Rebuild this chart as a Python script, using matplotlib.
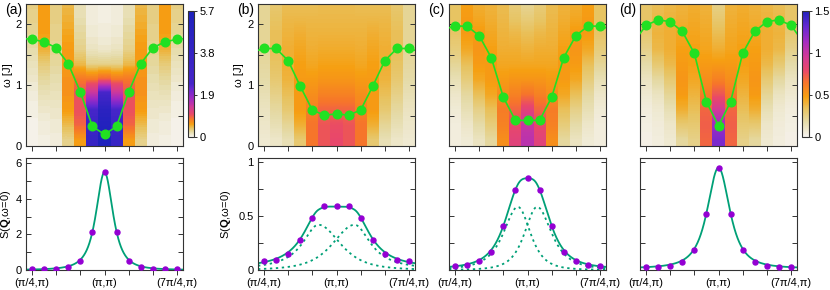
import numpy as np
import matplotlib
matplotlib.use('Agg')
import matplotlib.pyplot as plt
from matplotlib.colors import LinearSegmentedColormap, ListedColormap, Normalize
from matplotlib.cm import ScalarMappable
from matplotlib.ticker import FixedLocator, NullFormatter

plt.rcParams['font.family'] = ['Liberation Sans', 'DejaVu Sans']
plt.rcParams['mathtext.fontset'] = 'custom'
plt.rcParams['mathtext.rm'] = 'Liberation Sans'
plt.rcParams['mathtext.bf'] = 'Liberation Sans:bold'
plt.rcParams['mathtext.it'] = 'Liberation Sans:italic'

# ---------------- data ----------------
# momentum along (qx, pi), qx in units of pi
qx = [0.25, 0.375, 0.5, 0.625, 0.75, 0.875, 1.0, 1.125, 1.25, 1.375, 1.5, 1.625, 1.75]
qx_ext = [0.125] + qx + [1.875]
xtick_pos = [0.25, 0.5, 0.75, 1.0, 1.25, 1.5, 1.75]
xtick_labels = ['(π/4,π)', '', '', '(π,π)', '', '', '(7π/4,π)']

# dispersion omega(k) [J] (incl. one point beyond each edge)
disp_a = [1.77, 1.75, 1.71, 1.61, 1.35, 0.885, 0.32, 0.19, 0.32, 0.885, 1.35, 1.61, 1.71, 1.75, 1.77]
disp_b = [1.54, 1.60, 1.60, 1.40, 0.98, 0.59, 0.505, 0.527, 0.505, 0.59, 0.98, 1.40, 1.60, 1.60, 1.54]
disp_c = [1.91, 1.967, 1.967, 1.81, 1.45, 0.80, 0.42, 0.42, 0.42, 0.80, 1.45, 1.81, 1.967, 1.967, 1.91]
disp_d = [1.71, 1.98, 2.07, 2.04, 1.88, 1.52, 0.725, 0.33, 0.725, 1.52, 1.88, 2.04, 2.07, 1.98, 1.71]

# spectral intensity: rows = omega levels (bottom->top), columns = k points 0..6 (mirror symmetric)
omega_rows = [0.1, 0.35, 0.6, 0.85, 1.1, 1.35, 1.6, 1.85, 2.1, 2.35]
spec_a = [
    [0.03, 0.06, 0.08, 0.30, 0.60, 3.60, 5.60],
    [0.04, 0.08, 0.10, 0.45, 0.90, 3.20, 5.30],
    [0.05, 0.12, 0.13, 0.60, 1.00, 2.40, 4.60],
    [0.08, 0.18, 0.17, 0.65, 1.00, 1.50, 2.60],
    [0.12, 0.25, 0.21, 0.65, 0.80, 0.80, 0.90],
    [0.17, 0.35, 0.25, 0.62, 0.45, 0.30, 0.30],
    [0.22, 0.50, 0.28, 0.60, 0.30, 0.15, 0.12],
    [0.27, 0.58, 0.30, 0.55, 0.25, 0.10, 0.08],
    [0.30, 0.60, 0.32, 0.50, 0.20, 0.08, 0.06],
    [0.32, 0.60, 0.32, 0.45, 0.20, 0.07, 0.05],
]
spec_b = [
    [0.08, 0.10, 0.15, 0.30, 0.65, 0.75, 0.80],
    [0.10, 0.15, 0.22, 0.42, 0.65, 0.75, 0.78],
    [0.12, 0.20, 0.30, 0.50, 0.60, 0.70, 0.70],
    [0.15, 0.25, 0.35, 0.50, 0.55, 0.60, 0.60],
    [0.18, 0.30, 0.40, 0.50, 0.50, 0.52, 0.52],
    [0.20, 0.33, 0.42, 0.48, 0.45, 0.47, 0.47],
    [0.22, 0.35, 0.42, 0.45, 0.42, 0.43, 0.43],
    [0.22, 0.35, 0.40, 0.42, 0.40, 0.40, 0.40],
    [0.22, 0.33, 0.38, 0.38, 0.38, 0.38, 0.38],
    [0.22, 0.30, 0.35, 0.35, 0.35, 0.36, 0.36],
]
spec_c = [
    [0.05, 0.07, 0.12, 0.20, 0.55, 0.85, 1.05],
    [0.05, 0.10, 0.18, 0.28, 0.60, 0.80, 1.00],
    [0.07, 0.15, 0.25, 0.35, 0.62, 0.70, 0.85],
    [0.10, 0.20, 0.35, 0.45, 0.55, 0.60, 0.65],
    [0.15, 0.28, 0.45, 0.50, 0.50, 0.52, 0.52],
    [0.22, 0.35, 0.50, 0.50, 0.45, 0.45, 0.45],
    [0.28, 0.45, 0.52, 0.48, 0.42, 0.42, 0.40],
    [0.32, 0.50, 0.50, 0.45, 0.40, 0.38, 0.35],
    [0.33, 0.50, 0.45, 0.42, 0.38, 0.32, 0.28],
    [0.33, 0.48, 0.42, 0.40, 0.36, 0.28, 0.22],
]
spec_d = [
    [0.03, 0.05, 0.08, 0.20, 0.25, 0.70, 1.25],
    [0.04, 0.06, 0.10, 0.30, 0.30, 0.72, 1.15],
    [0.05, 0.08, 0.15, 0.42, 0.35, 0.70, 0.95],
    [0.08, 0.12, 0.22, 0.50, 0.40, 0.62, 0.75],
    [0.12, 0.20, 0.30, 0.52, 0.45, 0.55, 0.60],
    [0.18, 0.30, 0.38, 0.50, 0.48, 0.50, 0.50],
    [0.25, 0.38, 0.42, 0.48, 0.48, 0.46, 0.42],
    [0.30, 0.40, 0.42, 0.45, 0.46, 0.44, 0.36],
    [0.32, 0.38, 0.40, 0.42, 0.44, 0.42, 0.30],
    [0.32, 0.35, 0.38, 0.40, 0.42, 0.40, 0.25],
]

# static structure factor S(Q, omega=0)
sq_a = [0.05, 0.05, 0.08, 0.15, 0.50, 2.15, 5.50, 2.15, 0.50, 0.15, 0.08, 0.05, 0.05]
sq_b = [0.083, 0.096, 0.15, 0.28, 0.485, 0.59, 0.59, 0.59, 0.485, 0.28, 0.15, 0.096, 0.083]
sq_c = [0.037, 0.046, 0.08, 0.17, 0.41, 0.74, 0.852, 0.74, 0.41, 0.17, 0.08, 0.046, 0.037]
sq_d = [0.031, 0.028, 0.04, 0.074, 0.188, 0.52, 0.95, 0.52, 0.188, 0.074, 0.04, 0.028, 0.031]

# fit parameters: peak centres (units of pi), amplitude, inner/outer widths and exponents, background
fit_a = dict(centers=[1.0], amp=5.5, w_in=0.134, p_in=1.5, w_out=0.134, p_out=1.5, bg=0.0)
fit_b = dict(centers=[0.8125, 1.1875], amp=0.42, w_in=0.409, p_in=2.0, w_out=0.20, p_out=1.0, bg=0.015)
fit_c = dict(centers=[0.90, 1.10], amp=0.586, w_in=0.236, p_in=2.0, w_out=0.229, p_out=1.5, bg=0.01)
fit_d = dict(centers=[1.0], amp=0.935, w_in=0.178, p_in=1.5, w_out=0.178, p_out=1.5, bg=0.015)

cbar_a_ticks = [0, 1.9, 3.8, 5.7]
cbar_a_labels = ['0', '1.9', '3.8', '5.7']
cbar_d_ticks = [0, 0.5, 1, 1.5]
cbar_d_labels = ['0', '0.5', '1', '1.5']

# ---------------- styling ----------------
W, H = 830, 290
fig = plt.figure(figsize=(W / 100, H / 100), dpi=100)

def px_axes(x0, y0, x1, y1):
    return fig.add_axes([x0 / W, 1 - y1 / H, (x1 - x0) / W, (y1 - y0) / H])

cm_stops = [(0.0, '#f7f4f1'), (0.12, '#e5dba8'), (0.22, '#e8c462'), (0.32, '#f6a012'),
            (0.43, '#f7762a'), (0.53, '#e9486a'), (0.64, '#d13a98'), (0.76, '#a42cc2'),
            (0.88, '#6428d2'), (1.0, '#1f22bd')]
cmap_d = LinearSegmentedColormap.from_list('pal', cm_stops)
xs = np.linspace(0, 1, 256)
cmap_a = ListedColormap(cmap_d(np.interp(xs, [0, 0.1, 0.18, 0.29, 0.42, 1.0],
                                         [0, 0.32, 0.53, 0.74, 0.93, 1.0])))

green = '#22e022'
teal = '#00a077'
violet = '#9400d3'
spine_c = '#333333'
fs = 8

lefts = [26, 258, 449, 640]
width = 157
xlim = (0.1875, 1.8125)
step = 0.125

panels = [
    ('(a)', disp_a, spec_a, sq_a, fit_a, cmap_a, 5.7),
    ('(b)', disp_b, spec_b, sq_b, fit_b, cmap_d, 1.5),
    ('(c)', disp_c, spec_c, sq_c, fit_c, cmap_d, 1.5),
    ('(d)', disp_d, spec_d, sq_d, fit_d, cmap_d, 1.5),
]
label_x = [5, 237, 428, 619]
top_ylabel_off = [13, 14]
bot_ylabel_off = [13, 25]

def style(ax):
    for s in ax.spines.values():
        s.set_color(spine_c)
        s.set_linewidth(0.8)
    ax.tick_params(axis='y', which='both', direction='in', left=True, right=True,
                   length=3.5, width=0.7, color=spine_c, labelsize=fs, pad=3)
    ax.tick_params(axis='x', which='both', direction='out', top=False, bottom=True,
                   length=3.5, width=0.7, color=spine_c, labelsize=fs, pad=2)

def peak(q, c, fit):
    d = q - c
    inner = (d * (1.0 - c) >= 0) if c != 1.0 else np.ones_like(q, dtype=bool)
    w = np.where(inner, fit['w_in'], fit['w_out'])
    p = np.where(inner, fit['p_in'], fit['p_out'])
    return fit['amp'] / (1 + (d / w) ** 2) ** p

qfine = np.linspace(xlim[0], xlim[1], 600)

for i, (lab, disp, spec, sq, fit, cmap, vmax) in enumerate(panels):
    x0 = lefts[i]
    # ---- top: spectral function ----
    ax = px_axes(x0, 4, x0 + width, 146)
    half = np.array(spec, dtype=float)
    full = np.concatenate([half, half[:, -2::-1]], axis=1)
    dom = omega_rows[1] - omega_rows[0]
    for j, q in enumerate(qx):
        ax.imshow(full[:, j:j + 1], origin='lower', aspect='auto', cmap=cmap,
                  vmin=0, vmax=vmax, interpolation='bilinear',
                  extent=[q - step / 2, q + step / 2, omega_rows[0] - dom / 2, omega_rows[-1] + dom / 2])
    ax.plot(qx_ext, disp, '-', color=green, lw=1.2, marker='o', ms=6.2,
            mec=green, mfc=green, zorder=5)
    ax.set_xlim(*xlim)
    ax.set_ylim(0, 2.33)
    ax.xaxis.set_major_locator(FixedLocator(xtick_pos))
    ax.xaxis.set_major_formatter(NullFormatter())
    ax.yaxis.set_major_locator(FixedLocator([0, 1, 2]))
    ax.yaxis.set_minor_locator(FixedLocator([0.5, 1.5]))
    style(ax)
    if i in (0, 1):
        ax.set_yticklabels(['0', '1', '2'])
        ax.set_ylabel('ω [J]', fontsize=fs)
        ax.yaxis.set_label_coords(-top_ylabel_off[i] / width, 0.5)
    else:
        ax.set_yticklabels([])
    fig.text(label_x[i] / W, 1 - 10 / H, lab, fontsize=10, ha='left', va='center')

    # ---- bottom: S(Q, 0) ----
    bx = px_axes(x0, 158, x0 + width, 270)
    curves = [peak(qfine, c, fit) for c in fit['centers']]
    total = np.sum(curves, axis=0) + fit['bg']
    if len(curves) > 1:
        for cv in curves:
            bx.plot(qfine, cv, color=teal, lw=1.3, ls=(0, (1.3, 2.0)))
    bx.plot(qfine, total, color=teal, lw=1.3)
    bx.plot(qx, sq, 'o', color=violet, ms=3.6, mec=violet, zorder=5)
    bx.set_xlim(*xlim)
    bx.xaxis.set_major_locator(FixedLocator(xtick_pos))
    bx.set_xticklabels(xtick_labels)
    if i == 0:
        bx.set_ylim(0, 6.3)
        bx.yaxis.set_major_locator(FixedLocator([0, 2, 4, 6]))
        bx.yaxis.set_minor_locator(FixedLocator([1, 3, 5]))
        bx.set_yticklabels(['0', '2', '4', '6'])
    else:
        bx.set_ylim(0, 1.04)
        bx.yaxis.set_major_locator(FixedLocator([0, 0.5, 1]))
        bx.yaxis.set_minor_locator(FixedLocator([0.25, 0.75]))
        if i == 1:
            bx.set_yticklabels(['0', '0.5', '1'])
        else:
            bx.set_yticklabels([])
    style(bx)
    if i in (0, 1):
        bx.set_ylabel(r'S($\mathbf{Q}$,ω=0)', fontsize=fs)
        bx.yaxis.set_label_coords(-bot_ylabel_off[i] / width, 0.5)

# ---- colorbars ----
for (cx0, cx1, cmap, vmax, ticks, labels) in [
        (188, 194, cmap_a, 5.7, cbar_a_ticks, cbar_a_labels),
        (802, 809, cmap_d, 1.5, cbar_d_ticks, cbar_d_labels)]:
    cax = px_axes(cx0, 11, cx1, 137)
    sm = ScalarMappable(norm=Normalize(0, vmax), cmap=cmap)
    cb = fig.colorbar(sm, cax=cax, ticks=ticks)
    cb.ax.set_yticklabels(labels)
    cb.outline.set_linewidth(0.8)
    cb.outline.set_edgecolor(spine_c)
    cb.ax.tick_params(labelsize=fs, length=2.5, width=0.7, pad=1.5, color=spine_c)

fig.savefig('out.png', dpi=100)
